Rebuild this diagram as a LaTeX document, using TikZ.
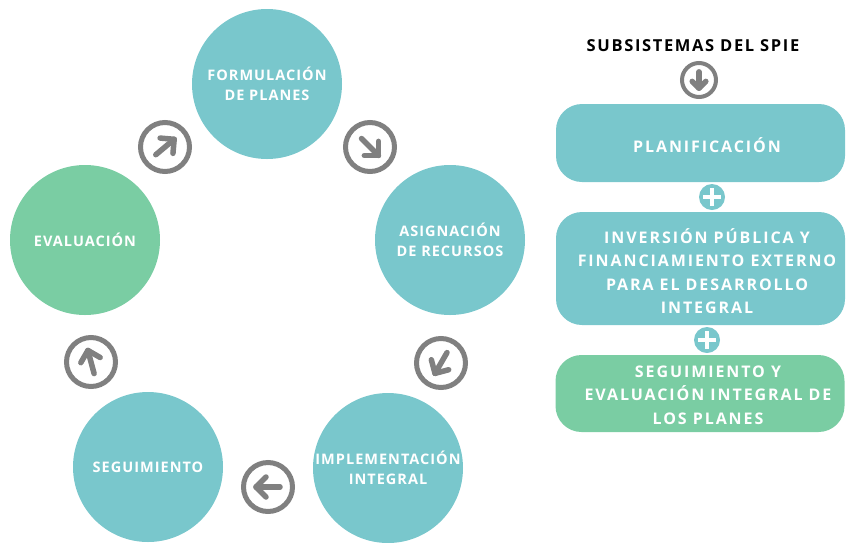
\documentclass[tikz,border=0pt]{standalone}
\usepackage{fontspec}
\newfontfamily\circfont[LetterSpace=7]{Open Sans}
\newfontfamily\boxfont[LetterSpace=12]{Open Sans}
\newfontfamily\titlefont[LetterSpace=10]{Open Sans}
\usetikzlibrary{shapes}
\usetikzlibrary{positioning}

\definecolor{tealfill}{RGB}{121,199,204}
\definecolor{greenfill}{RGB}{122,205,163}
\definecolor{ringgray}{RGB}{128,128,128}

% arrow inside a ring: node, angle, scale
\newcommand{\arrowmark}[3]{%
	\begin{scope}[shift={(#1.center)},rotate=#2,scale=#3]
		\draw[arrow line] (-12,0) -- (12,0);
		\draw[arrow line] (2,-10) -- (12,0) -- (2,10);
	\end{scope}}
% white cross inside a plus node
\newcommand{\plusmark}[1]{%
	\draw[plus line] ([xshift=-9pt]#1.center) -- ([xshift=9pt]#1.center);
	\draw[plus line] ([yshift=-9pt]#1.center) -- ([yshift=9pt]#1.center);}

\begin{document}
\begin{tikzpicture}[x=1pt,y=-1pt,
	main node/.style={circle,fill=tealfill,text=white,align=center,minimum size=150pt,inner sep=0pt,font=\circfont\bfseries\fontsize{14.5}{20}\selectfont},
	ring node/.style={circle,draw=ringgray,fill=white,line width=5pt,minimum size=49pt,inner sep=0pt},
	small ring/.style={ring node,line width=4pt,minimum size=34pt},
	arrow line/.style={draw=ringgray,line width=5.5pt,line cap=round,line join=round},
	box node/.style={rectangle,rounded corners=26pt,fill=tealfill,minimum width=289pt,inner sep=0pt},
	box text/.style={text=white,align=center,font=\boxfont\bfseries\fontsize{16}{23.5}\selectfont},
	plus node/.style={circle,fill=tealfill,minimum size=26pt,inner sep=0pt},
	plus line/.style={draw=white,line width=4pt}]
	
	\useasboundingbox (0,0) rectangle (846,542);
	
	% cycle
	\node[main node] at (267,84) (1) {FORMULACIÓN\\DE PLANES};
	\node[main node] at (450,240) (2) {ASIGNACIÓN\\DE RECURSOS};
	\node[main node] at (388,468) (3) {IMPLEMENTACIÓN\\INTEGRAL};
	\node[main node] at (148,467) (4) {SEGUIMIENTO};
	\node[main node,fill=greenfill] at (85,240) (5) {EVALUACIÓN};
	
	\node[ring node] at (370,147) (a1) {};
	\node[ring node] at (441,363) (a2) {};
	\node[ring node] at (268,487) (a3) {};
	\node[ring node] at (91,362) (a4) {};
	\node[ring node] at (165,147) (a5) {};
	\arrowmark{a1}{-45}{1}
	\arrowmark{a2}{-120}{1}
	\arrowmark{a3}{180}{1}
	\arrowmark{a4}{105}{1}
	\arrowmark{a5}{40}{1}
	
	% subsystems
	\node[font=\titlefont\bfseries\fontsize{16.5}{19}\selectfont] at (693,46) (t) {SUBSISTEMAS DEL SPIE};
	\node[small ring] at (699,80) (a0) {};
	\arrowmark{a0}{-90}{0.68}
	
	\node[box node,minimum height=78pt] at (700.5,143) (b1) {};
	\node[box text] at (707,145) (t1) {PLANIFICACIÓN};
	\node[plus node] at (712,197) (p1) {};
	\plusmark{p1}
	\node[box node,minimum height=113pt] at (700.5,268.5) (b2) {};
	\node[box text] at (707,271) (t2) {INVERSIÓN PÚBLICA Y\\FINANCIAMIENTO EXTERNO\\PARA EL DESARROLLO\\INTEGRAL};
	\node[plus node] at (707,340) (p2) {};
	\plusmark{p2}
	\node[box node,fill=greenfill,minimum height=77pt] at (700,393.5) (b3) {};
	\node[box text] at (708,395) (t3) {SEGUIMIENTO Y\\EVALUACIÓN INTEGRAL DE\\LOS PLANES};
	
\end{tikzpicture}
\end{document}
